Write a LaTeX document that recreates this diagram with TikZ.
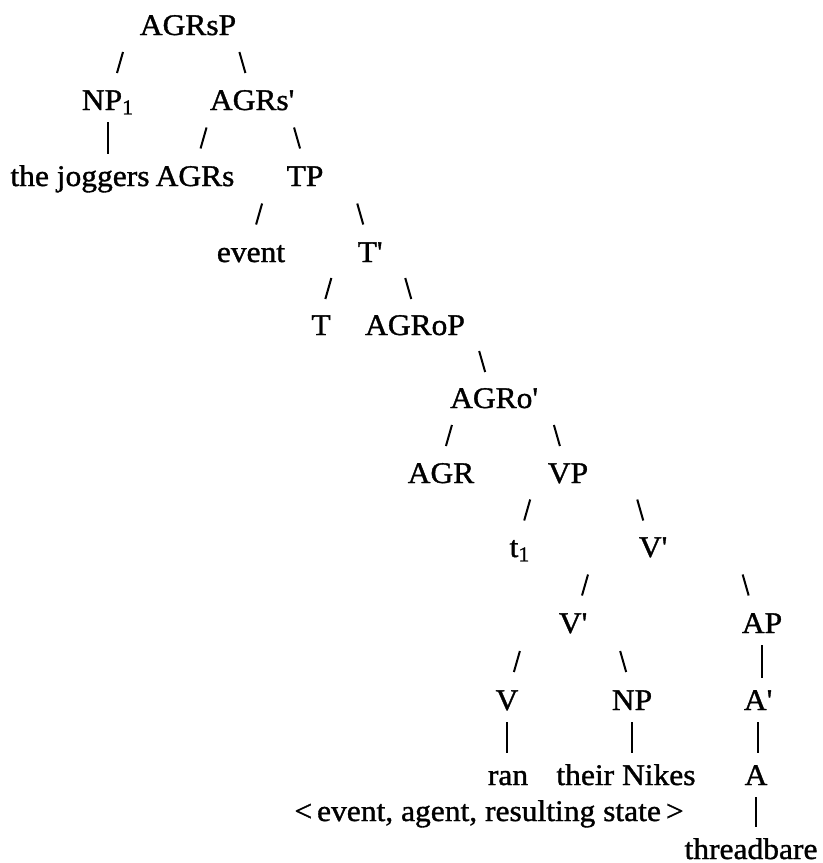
\documentclass[tikz,border=0pt]{standalone}
\usepackage{fontspec}
\setmainfont{Liberation Serif}[FakeStretch=1.05,FakeBold=1.2]
\usepackage{tikz}
\usetikzlibrary{calc}
\tikzstyle{cat} = [anchor=base, inner sep=0pt, font=\fontsize{15}{18}\selectfont]
\tikzstyle{line} = [draw, line width=1pt]
% short slanted stroke between two categories
\tikzstyle{branch} = [to path={
    let \p1=(\tikztostart.base), \p2=(\tikztotarget.base), \n1={sign(\x1-\x2)} in
    ({\x2+0.15*(\x1-\x2)+1.5pt*(\n1)},{0.5*(\y1+\y2)+10.25pt}) --
    ({\x2+0.15*(\x1-\x2)-1.5pt*(\n1)},{0.5*(\y1+\y2)-0.25pt})}]
% vertical stroke for unary branching
\tikzstyle{stem} = [to path={
    let \p1=(\tikztostart.base), \p2=(\tikztotarget.base) in
    (\x1,\y1-6pt) -- (\x1,\y2+16pt)}]
\newcommand{\pr}{\textquotesingle}

\begin{document}
\begin{tikzpicture}[x=0.5pt,y=-0.5pt]
    \useasboundingbox (0,0) rectangle (823,863);
    % Place nodes
    \node [cat] (agrsp) at (188,35) {AGRsP};
    \node [cat] (np1) at (108,110) {NP\textsubscript{1}};
    \node [cat] (agrsbar) at (252,110) {AGRs\pr};
    \node [cat] (joggers) at (80,186) {the joggers};
    \node [cat] (agrs) at (195,186) {AGRs};
    \node [cat] (tp) at (305,186) {TP};
    \node [cat] (event) at (251,262) {event};
    \node [cat] (tbar) at (370,262) {T\pr};
    \node [cat] (t) at (321,335) {T};
    \node [cat] (agrop) at (415,335) {AGRoP};
    \node [cat] (agrobar) at (494,408) {AGRo\pr};
    \node [cat] (agr) at (441,483) {AGR};
    \node [cat] (vp) at (568,483) {VP};
    \node [cat] (trace) at (520,557) {t\textsubscript{1}};
    \node [cat] (vbarup) at (653,557) {V\pr};
    \node [cat] (vbarlow) at (573,633) {V\pr};
    \node [cat] (ap) at (762,633) {AP};
    \node [cat] (v) at (507,710) {V};
    \node [cat] (np) at (632,710) {NP};
    \node [cat] (abar) at (758,710) {A\pr};
    \node [cat] (ran) at (508,785) {ran};
    \node [cat] (nikes) at (626,785) {their Nikes};
    \node [cat] (a) at (756,785) {A};
    \node [cat] (grid) at (489,821) {<\,event, agent, resulting state\,>};
    \node [cat] (threadbare) at (751,859) {threadbare};

    % Draw edges
    \path [line] (agrsp) to[branch] (np1);
    \path [line] (agrsp) to[branch] (agrsbar);
    \path [line] (np1) to[stem] (joggers);
    \path [line] (agrsbar) to[branch] (agrs);
    \path [line] (agrsbar) to[branch] (tp);
    \path [line] (tp) to[branch] (event);
    \path [line] (tp) to[branch] (tbar);
    \path [line] (tbar) to[branch] (t);
    \path [line] (tbar) to[branch] (agrop);
    \path [line] (agrop) to[branch] (agrobar);
    \path [line] (agrobar) to[branch] (agr);
    \path [line] (agrobar) to[branch] (vp);
    \path [line] (vp) to[branch] (trace);
    \path [line] (vp) to[branch] (vbarup);
    \path [line] (vbarup) to[branch] (vbarlow);
    \path [line] (vbarup) to[branch] (ap);
    \path [line] (vbarlow) to[branch] (v);
    \path [line] (vbarlow) to[branch] (np);
    \path [line] (ap) to[stem] (abar);
    \path [line] (v) to[stem] (ran);
    \path [line] (np) to[stem] (nikes);
    \path [line] (abar) to[stem] (a);
    \path [line] (a) to[stem] (threadbare);
\end{tikzpicture}
\end{document}
